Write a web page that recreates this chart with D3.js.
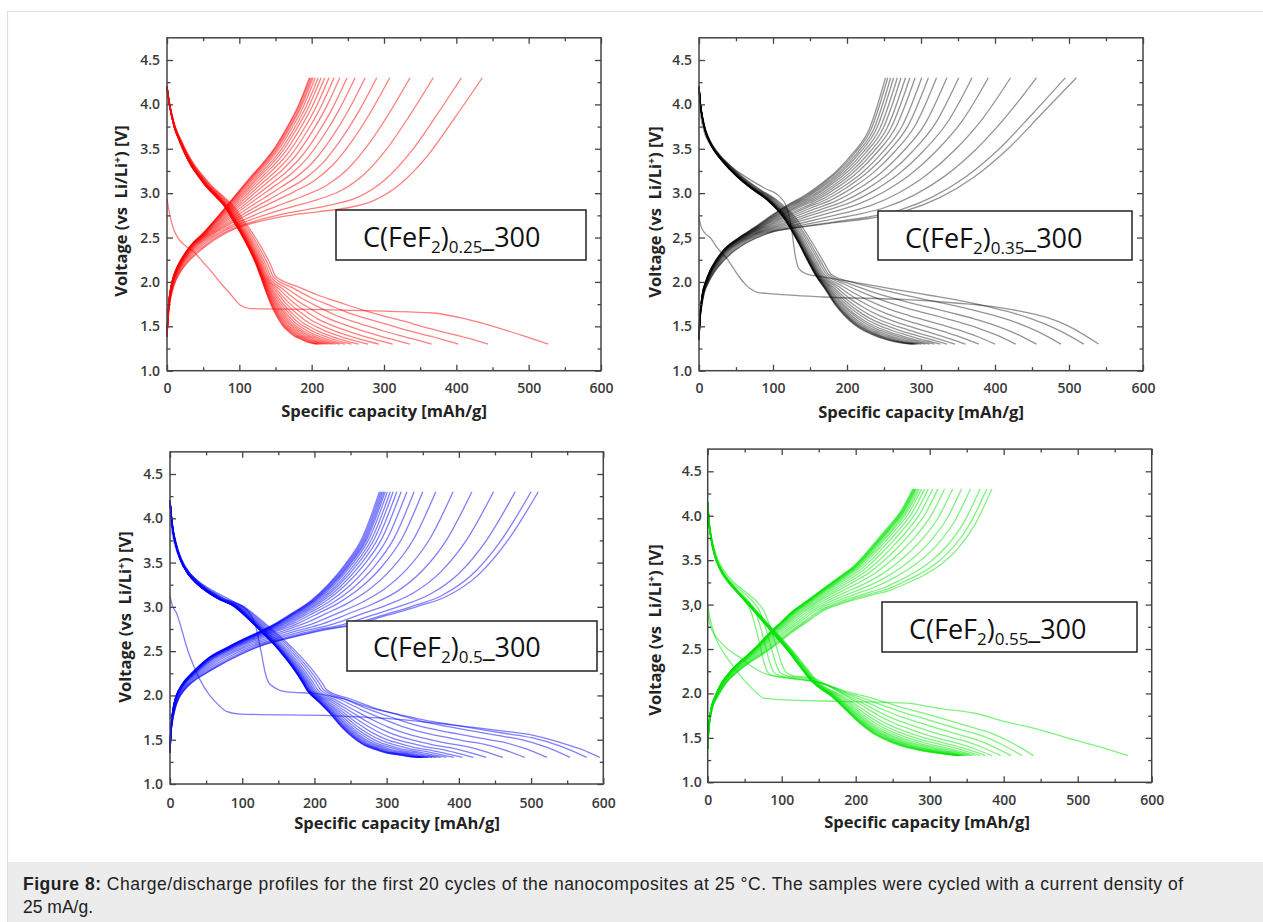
<!DOCTYPE html>
<html><head><meta charset="utf-8">
<script src="https://cdn.jsdelivr.net/npm/d3@7"></script>
<style>
body{margin:0;background:#fff;}
svg{display:block;}
</style></head><body>
<svg id="chart" width="1263" height="922"></svg>
<script>
// ---------------- DATA ----------------
// tail fractions (share of the capacity between the end of the head and the end of the cycle)
const tailFractions = [0.1,0.2,0.3,0.4,0.5,0.6,0.7,0.8,0.9,1.0];

const xTickValues = [0,100,200,300,400,500,600];
const xTickLabels = ["0","100","200","300","400","500","600"];
const xMinorValues = [50,150,250,350,450,550];
const yTickValues = [1.0,1.5,2.0,2.5,3.0,3.5,4.0,4.5];
const yMinorValues = [1.25,1.75,2.25,2.75,3.25,3.75,4.25];
const p1YTickLabels = ["1.0","1.5","2.0","2.5","3.0","3.5","4.0","4.5"];
const p2YTickLabels = ["1.0","1.5","2.0","2,5","3.0","3.5","4.0","4.5"];
const p3YTickLabels = ["1.0","1.5","2.0","2.5","3.0","3.5","4.0","4.5"];
const p4YTickLabels = ["1.0","1.5","2.0","2.5","3,0","3.5","4.0","4.5"];

// ---- Panel 1: C(FeF2)0.25_300 ----
const p1DischargeFirst = [[0,2.94],[4,2.75],[9,2.6],[14,2.51],[25,2.41],[37,2.34],[50,2.22],[60,2.13],[75,1.98],[87,1.87],[101,1.74],[115,1.70],[200,1.69],[300,1.67],[368,1.65],[414,1.58],[451,1.5],[490,1.4],[527,1.3]];
const p1DischargeHead = [[0,4.2],[2,4.08],[5,3.94],[8,3.83],[11,3.74],[18,3.6],[27,3.44],[36,3.31],[47,3.19],[59,3.07],[73,2.96],[87,2.84],[98,2.7],[110,2.55],[122,2.38],[133,2.2],[140,2.06]];
const p1DischargeTailLong = [1.95,1.85,1.77,1.69,1.62,1.56,1.49,1.43,1.37,1.3];
const p1DischargeTailShort = [1.88,1.72,1.6,1.5,1.44,1.39,1.36,1.33,1.31,1.3];
const p1DischargeEnd = [527,444,403,366,336,312,293,278,265,255,246,239,233,228,223,219,215,212,209,207];
const p1ChargeHead = [[0,1.38],[1,1.55],[3,1.75],[6,1.9],[10,2.02],[16,2.13],[23,2.22],[34,2.33],[45,2.42]];
const p1ChargeTailLong = [2.6,2.69,2.75,2.79,2.83,2.91,3.1,3.42,3.85,4.3];
const p1ChargeTailShort = [2.55,2.7,2.86,3.02,3.18,3.33,3.5,3.72,3.97,4.3];
const p1ChargeEnd = [436,407,368,336,308,290,274,260,249,239,231,224,218,213,209,205,202,200,198,197];

// ---- Panel 2: C(FeF2)0.35_300 ----
const p2DischargeFirst = [[0,2.72],[3,2.62],[8,2.55],[15,2.5],[25,2.38],[37,2.27],[46,2.16],[55,2.05],[63,1.97],[70,1.92],[80,1.88],[92,1.87],[168,1.83],[281,1.8],[350,1.76],[400,1.72],[440,1.66],[470,1.6],[500,1.5],[540,1.3]];
const p2DischargeSecond = [[0,4.15],[2,3.9],[6,3.72],[15,3.55],[35,3.36],[60,3.2],[90,3.05],[108,2.97],[118,2.85],[125,2.6],[130,2.3],[135,2.15],[145,2.09],[172,2.05]];
const p2DischargeHead = [[0,4.2],[2,4.0],[5,3.84],[9,3.7],[15,3.58],[23,3.47],[33,3.37],[55,3.19],[75,3.06],[100,2.92],[123,2.73],[146,2.43],[160,2.22],[170,2.08]];
const p2DischargeTailLong = [2.0,1.95,1.9,1.85,1.8,1.74,1.67,1.58,1.46,1.3];
const p2DischargeTailShort = [1.92,1.75,1.62,1.52,1.45,1.4,1.36,1.33,1.31,1.3];
const p2DischargeEnd = [540,520,489,456,428,400,378,360,346,335,326,318,312,306,301,297,294,292,290,288];
const p2ChargeHead = [[0,1.35],[1,1.55],[3,1.72],[6,1.88],[10,1.98],[18,2.12],[28,2.24],[40,2.35]];
const p2ChargeTailLong = [2.55,2.62,2.67,2.72,2.8,2.95,3.18,3.5,3.9,4.3];
const p2ChargeTailShort = [2.5,2.62,2.75,2.87,2.97,3.1,3.25,3.45,3.72,4.3];
const p2ChargeEnd = [510,495,456,421,391,369,351,335,321,310,301,292,285,279,273,268,263,259,255,252];

// ---- Panel 3: C(FeF2)0.5_300 ----
const p3DischargeFirst = [[0,3.12],[3,3.02],[9,2.93],[16,2.75],[23,2.55],[32,2.35],[42,2.17],[55,2.0],[65,1.91],[78,1.82],[97,1.79],[226,1.77],[300,1.74],[365,1.69],[420,1.64],[460,1.6],[503,1.55],[540,1.47],[570,1.39],[595,1.3]];
const p3DischargeSecond = [[0,4.15],[2,3.9],[6,3.72],[15,3.52],[35,3.32],[60,3.18],[90,3.05],[108,2.95],[118,2.8],[126,2.5],[132,2.25],[138,2.13],[162,2.04],[203,2.02]];
const p3DischargeHead = [[0,4.2],[2,4.02],[4,3.88],[8,3.72],[15,3.54],[28,3.36],[42,3.25],[70,3.1],[97,3.0],[115,2.88],[134,2.74],[162,2.52],[182,2.33],[198,2.15],[205,2.06]];
const p3DischargeTailLong = [1.96,1.86,1.79,1.72,1.67,1.62,1.57,1.52,1.43,1.3];
const p3DischargeTailShort = [1.93,1.8,1.65,1.53,1.44,1.39,1.35,1.33,1.31,1.3];
const p3DischargeEnd = [595,577,554,522,491,461,438,420,405,393,383,375,368,363,358,355,352,350,348,347];
const p3ChargeHead = [[0,1.35],[1,1.55],[3,1.72],[6,1.86],[10,1.97],[16,2.06],[25,2.15],[40,2.25],[55,2.34],[70,2.42]];
const p3ChargeTailLong = [2.57,2.66,2.74,2.8,2.9,3.0,3.12,3.35,3.75,4.3];
const p3ChargeTailShort = [2.53,2.63,2.72,2.82,2.94,3.07,3.25,3.48,3.78,4.3];
const p3ChargeEnd = [510,500,478,448,418,392,368,350,338,328,320,314,309,305,301,298,296,294,292,290];

// ---- Panel 4: C(FeF2)0.55_300 ----
const p4DischargeFirst = [[0,3.0],[3,2.85],[7,2.72],[12,2.6],[22,2.45],[35,2.3],[46,2.18],[57,2.08],[67,2.0],[75,1.95],[98,1.93],[179,1.91],[269,1.89],[314,1.83],[359,1.78],[404,1.68],[449,1.59],[494,1.48],[530,1.4],[568,1.3]];
const p4DischargeSecond = [[0,2.9],[4,2.75],[10,2.65],[17,2.58],[30,2.48],[44,2.4],[60,2.3],[75,2.23],[102,2.18],[125,2.16],[160,2.1]];
const p4DischargeKnee = [[0,4.15],[2,3.92],[5,3.74],[10,3.56],[18,3.4],[32,3.24],[45,3.14],[57,3.04],[66,2.93],[73,2.76],[80,2.55],[86,2.36],[92,2.24],[100,2.2],[125,2.17],[160,2.1]];
const p4KneeScale = [0.88,0.97,1.06,1.15];
const p4DischargeHead = [[0,4.15],[2,3.92],[5,3.74],[10,3.56],[18,3.4],[32,3.24],[44,3.13],[57,3.02],[75,2.86],[95,2.68],[115,2.5],[135,2.3],[150,2.15],[160,2.08]];
const p4DischargeTailLong = [2.02,1.96,1.89,1.82,1.76,1.69,1.62,1.55,1.44,1.3];
const p4DischargeTailShort = [1.97,1.82,1.67,1.55,1.47,1.41,1.37,1.34,1.32,1.3];
const p4DischargeEnd = [568,440,425,410,396,384,375,368,362,357,353,350,347,345,343,341,340,339,338,337];
const p4ChargeHead = [[0,1.38],[1,1.55],[3,1.72],[6,1.85],[12,1.97],[22,2.12],[35,2.24],[50,2.35],[66,2.45],[82,2.56],[98,2.68],[116,2.8],[134,2.92]];
const p4ChargeTailLong = [3.0,3.06,3.11,3.16,3.24,3.33,3.45,3.63,3.9,4.3];
const p4ChargeTailShort = [3.02,3.12,3.22,3.32,3.42,3.56,3.72,3.88,4.05,4.3];
const p4ChargeEnd = [384,377,368,355,343,331,320,311,304,298,293,289,286,284,282,281,280,279,278,277];

// ---------------- LAYOUT / STYLE ----------------
const panels = [
  {x0:167, x1:601, yb:370.7, y45:60, color:"#ff0000", op:0.5, yLabels:p1YTickLabels, name:"0.25", dSpread:0.15, cSpread:0.5,
   dFirst:p1DischargeFirst, dHead:p1DischargeHead, dLong:p1DischargeTailLong, dShort:p1DischargeTailShort, dEnd:p1DischargeEnd,
   special:[],
   cHead:p1ChargeHead, cLong:p1ChargeTailLong, cShort:p1ChargeTailShort, cEnd:p1ChargeEnd,
   xPad:12, yPad:7, xTitle:[384,417], yTitle:[127,211], box:[336,210,250,50], txt:[363,246.5]},
  {x0:699, x1:1143, yb:370.7, y45:60, color:"#000000", op:0.42, yLabels:p2YTickLabels, name:"0.35", dSpread:0.15, cSpread:0.4,
   dFirst:p2DischargeFirst, dHead:p2DischargeHead, dLong:p2DischargeTailLong, dShort:p2DischargeTailShort, dEnd:p2DischargeEnd,
   special:[{i:1, pts:p2DischargeSecond, s:1}],
   cHead:p2ChargeHead, cLong:p2ChargeTailLong, cShort:p2ChargeTailShort, cEnd:p2ChargeEnd,
   xPad:12, yPad:7, xTitle:[921,418], yTitle:[661,212], box:[878,211,254,49], txt:[905,248]},
  {x0:170, x1:603.3, yb:784, y45:474, color:"#0000ff", op:0.5, yLabels:p3YTickLabels, name:"0.5", dSpread:0.15, cSpread:0.5,
   dFirst:p3DischargeFirst, dHead:p3DischargeHead, dLong:p3DischargeTailLong, dShort:p3DischargeTailShort, dEnd:p3DischargeEnd,
   special:[{i:1, pts:p3DischargeSecond, s:1}],
   cHead:p3ChargeHead, cLong:p3ChargeTailLong, cShort:p3ChargeTailShort, cEnd:p3ChargeEnd,
   xPad:14, yPad:7, xTitle:[397,829], yTitle:[131,617], box:[347,621,250,50], txt:[373,656.5]},
  {x0:707.7, x1:1151.7, yb:782.3, y45:471.3, color:"#00e600", op:0.5, yLabels:p4YTickLabels, name:"0.55", dSpread:0.15, cSpread:0.3,
   dFirst:p4DischargeFirst, dHead:p4DischargeHead, dLong:p4DischargeTailLong, dShort:p4DischargeTailShort, dEnd:p4DischargeEnd,
   special:[{i:1, pts:p4DischargeSecond, s:1}].concat(p4KneeScale.map((s,k)=>({i:2+k, pts:p4DischargeKnee, s:s}))),
   cHead:p4ChargeHead, cLong:p4ChargeTailLong, cShort:p4ChargeTailShort, cEnd:p4ChargeEnd,
   xPad:12.5, yPad:6, xTitle:[927,828], yTitle:[661,630], box:[882,602,255,50], txt:[909,638.5]}
];

function buildTail(start, end, longV, shortV, t){
  const c0 = start[0];
  return tailFractions.map((f,k)=>[c0 + (end-c0)*f, shortV[k] + (longV[k]-shortV[k])*t]);
}

function buildCurves(p){
  const out = [];
  // discharge
  const rest = p.dEnd.slice(1);
  const dMin = d3.min(rest), dMax = d3.max(rest);
  p.dEnd.forEach((end,i)=>{
    if(i===0){ out.push(p.dFirst); return; }
    const t = (end-dMin)/(dMax-dMin);
    const sp = p.special.find(s=>s.i===i);
    let head;
    if(sp){
      head = sp.pts.map((d,k)=> k===sp.pts.length-1 ? d : [d[0]*sp.s, d[1]]);
    } else {
      const m = 1 + p.dSpread*(t-0.5);
      head = p.dHead.map(d=>[d[0]*m, d[1]]);
    }
    out.push(head.concat(buildTail(head[head.length-1], end, p.dLong, p.dShort, t)));
  });
  // charge
  const cMin = d3.min(p.cEnd), cMax = d3.max(p.cEnd);
  p.cEnd.forEach(end=>{
    const t = (end-cMin)/(cMax-cMin);
    const m = 1 + p.cSpread*(t-0.5);
    const head = p.cHead.map(d=>[d[0]*m, d[1]]);
    out.push(head.concat(buildTail(head[head.length-1], end, p.cLong, p.cShort, t)));
  });
  return out;
}

const svg = d3.select("#chart");
// page frame
svg.append("rect").attr("x",0).attr("y",0).attr("width",1263).attr("height",922).attr("fill","#fff");
svg.append("line").attr("x1",7).attr("x2",1263).attr("y1",11.5).attr("y2",11.5).attr("stroke","#dedede").attr("stroke-width",1.2);
svg.append("line").attr("x1",7.5).attr("x2",7.5).attr("y1",11).attr("y2",922).attr("stroke","#dedede").attr("stroke-width",1.2);
svg.append("rect").attr("x",8).attr("y",862).attr("width",1255).attr("height",60).attr("fill","#ececec");

const cap = svg.append("g").attr("font-family","'Liberation Sans', Arial, sans-serif").attr("font-size",17.5).attr("fill","#222");
const l1 = cap.append("text").attr("x",23).attr("y",890).attr("textLength",1160).attr("lengthAdjust","spacing");
l1.append("tspan").attr("font-weight","bold").text("Figure 8:");
l1.append("tspan").text(" Charge/discharge profiles for the first 20 cycles of the nanocomposites at 25 °C. The samples were cycled with a current density of");
cap.append("text").attr("x",23).attr("y",913).text("25 mA/g.");

panels.forEach(p=>{
  const yUnit = (p.yb - p.y45)/3.5;
  const yTop = p.y45 - 0.25*yUnit;
  const x = d3.scaleLinear().domain([0,600]).range([p.x0,p.x1]);
  const y = d3.scaleLinear().domain([1,4.75]).range([p.yb,yTop]);
  const g = svg.append("g");

  const line = d3.line().x(d=>x(d[0])).y(d=>y(d[1])).curve(d3.curveMonotoneX);
  const curves = buildCurves(p);
  g.append("g").selectAll("path").data(curves).join("path")
    .attr("d",line).attr("fill","none").attr("stroke",p.color)
    .attr("stroke-opacity",p.op).attr("stroke-width",1.3);

  // axes
  const ax = g.append("g");
  const styleAxis = sel=>{
    sel.select(".domain").remove();
    sel.selectAll("line").attr("stroke","#444").attr("stroke-width",1.3);
    sel.selectAll("text").attr("fill","#3a3a3a").attr("font-size",14).attr("font-weight",600).attr("font-family","'Open Sans', sans-serif");
  };
  ax.append("g").attr("transform",`translate(0,${p.yb})`)
    .call(d3.axisBottom(x).tickValues(xTickValues).tickFormat((d,i)=>xTickLabels[i]).tickSizeInner(-6).tickSizeOuter(0).tickPadding(p.xPad)).call(styleAxis);
  ax.append("g").attr("transform",`translate(0,${p.yb})`)
    .call(d3.axisBottom(x).tickValues(xMinorValues).tickFormat("").tickSizeInner(-3.5).tickSizeOuter(0)).call(styleAxis);
  ax.append("g").attr("transform",`translate(0,${yTop})`)
    .call(d3.axisTop(x).tickValues(xTickValues).tickFormat("").tickSizeInner(-6).tickSizeOuter(0)).call(styleAxis);
  ax.append("g").attr("transform",`translate(0,${yTop})`)
    .call(d3.axisTop(x).tickValues(xMinorValues).tickFormat("").tickSizeInner(-3.5).tickSizeOuter(0)).call(styleAxis);
  ax.append("g").attr("transform",`translate(${p.x0},0)`)
    .call(d3.axisLeft(y).tickValues(yTickValues).tickFormat((d,i)=>p.yLabels[i]).tickSizeInner(-6).tickSizeOuter(0).tickPadding(p.yPad)).call(styleAxis);
  ax.append("g").attr("transform",`translate(${p.x0},0)`)
    .call(d3.axisLeft(y).tickValues(yMinorValues).tickFormat("").tickSizeInner(-3.5).tickSizeOuter(0)).call(styleAxis);
  ax.append("g").attr("transform",`translate(${p.x1},0)`)
    .call(d3.axisRight(y).tickValues(yTickValues).tickFormat("").tickSizeInner(-6).tickSizeOuter(0)).call(styleAxis);
  ax.append("g").attr("transform",`translate(${p.x1},0)`)
    .call(d3.axisRight(y).tickValues(yMinorValues).tickFormat("").tickSizeInner(-3.5).tickSizeOuter(0)).call(styleAxis);
  g.append("rect").attr("x",p.x0).attr("y",yTop).attr("width",p.x1-p.x0).attr("height",p.yb-yTop)
    .attr("fill","none").attr("stroke","#444").attr("stroke-width",1.5);

  // titles
  g.append("text").attr("x",p.xTitle[0]).attr("y",p.xTitle[1]).attr("text-anchor","middle")
    .attr("font-family","'Open Sans', sans-serif").attr("font-weight",700).attr("font-size",16.5).attr("fill","#222")
    .text("Specific capacity [mAh/g]");
  const yt = g.append("text").attr("transform",`translate(${p.yTitle[0]},${p.yTitle[1]}) rotate(-90)`).attr("text-anchor","middle")
    .attr("font-family","'Open Sans', sans-serif").attr("font-weight",700).attr("font-size",16.5).attr("fill","#222");
  yt.append("tspan").text("Voltage (vs\u00a0\u00a0Li/Li");
  yt.append("tspan").attr("font-size",10.5).attr("dy",-6.5).text("+");
  yt.append("tspan").attr("dy",6.5).text(") [V]");

  // sample label box
  g.append("rect").attr("x",p.box[0]).attr("y",p.box[1]).attr("width",p.box[2]).attr("height",p.box[3])
    .attr("fill","#fff").attr("stroke","#222").attr("stroke-width",1.5);
  const lt = g.append("text").attr("x",p.txt[0]).attr("y",p.txt[1])
    .attr("font-family","'Open Sans', sans-serif").attr("font-size",27).attr("fill","#111");
  lt.append("tspan").text("C(FeF");
  lt.append("tspan").attr("font-size",17).attr("dy",6).text("2");
  lt.append("tspan").attr("dy",-6).text(")");
  lt.append("tspan").attr("font-size",17).attr("dy",6).text(p.name);
  lt.append("tspan").attr("dy",-6).text("_300");
});
</script></body></html>
